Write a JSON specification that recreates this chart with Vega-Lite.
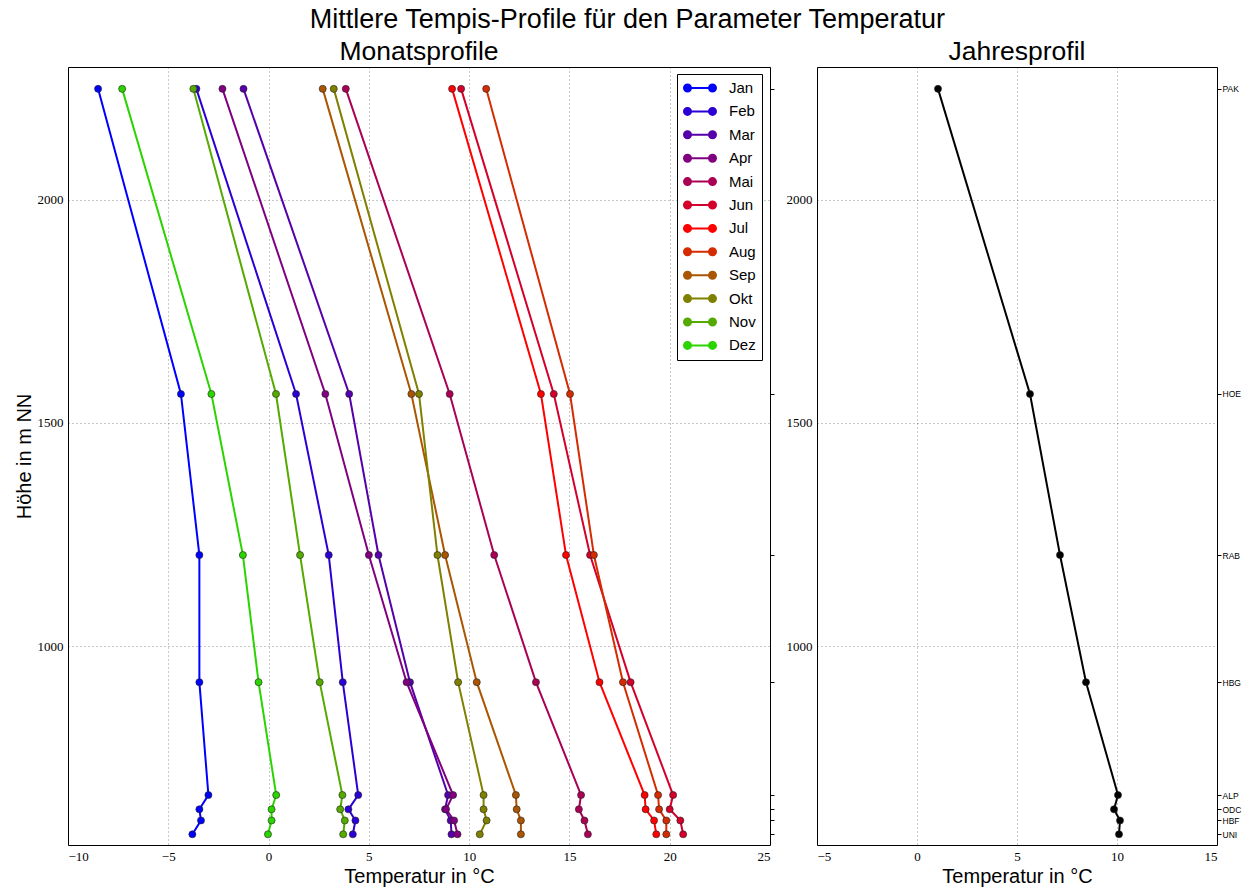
{
  "$schema": "https://vega.github.io/schema/vega-lite/v6.json",
  "padding": {"left": 13, "top": 6, "right": 0, "bottom": 0},
  "title": {"text": "Mittlere Tempis-Profile für den Parameter Temperatur", "fontSize": 27, "fontWeight": "normal", "anchor": "middle", "font": "Liberation Sans", "color": "#000", "offset": 4},
  "datasets": {
    "monat": [
      {"m":"Jan","s":"PAK","h":2249,"t":-8.5},{"m":"Feb","s":"PAK","h":2249,"t":-3.6},{"m":"Mar","s":"PAK","h":2249,"t":-1.25},{"m":"Apr","s":"PAK","h":2249,"t":-2.3},{"m":"Mai","s":"PAK","h":2249,"t":3.85},{"m":"Jun","s":"PAK","h":2249,"t":9.6},{"m":"Jul","s":"PAK","h":2249,"t":9.15},{"m":"Aug","s":"PAK","h":2249,"t":10.85},{"m":"Sep","s":"PAK","h":2249,"t":2.7},{"m":"Okt","s":"PAK","h":2249,"t":3.25},{"m":"Nov","s":"PAK","h":2249,"t":-3.75},{"m":"Dez","s":"PAK","h":2249,"t":-7.3},
      {"m":"Jan","s":"HOE","h":1565,"t":-4.37},{"m":"Feb","s":"HOE","h":1565,"t":1.37},{"m":"Mar","s":"HOE","h":1565,"t":4.02},{"m":"Apr","s":"HOE","h":1565,"t":2.83},{"m":"Mai","s":"HOE","h":1565,"t":9.03},{"m":"Jun","s":"HOE","h":1565,"t":14.22},{"m":"Jul","s":"HOE","h":1565,"t":13.58},{"m":"Aug","s":"HOE","h":1565,"t":15.03},{"m":"Sep","s":"HOE","h":1565,"t":7.12},{"m":"Okt","s":"HOE","h":1565,"t":7.5},{"m":"Nov","s":"HOE","h":1565,"t":0.37},{"m":"Dez","s":"HOE","h":1565,"t":-2.85},
      {"m":"Jan","s":"RAB","h":1204,"t":-3.45},{"m":"Feb","s":"RAB","h":1204,"t":3.0},{"m":"Mar","s":"RAB","h":1204,"t":5.48},{"m":"Apr","s":"RAB","h":1204,"t":5.0},{"m":"Mai","s":"RAB","h":1204,"t":11.25},{"m":"Jun","s":"RAB","h":1204,"t":16.03},{"m":"Jul","s":"RAB","h":1204,"t":14.83},{"m":"Aug","s":"RAB","h":1204,"t":16.22},{"m":"Sep","s":"RAB","h":1204,"t":8.8},{"m":"Okt","s":"RAB","h":1204,"t":8.42},{"m":"Nov","s":"RAB","h":1204,"t":1.57},{"m":"Dez","s":"RAB","h":1204,"t":-1.28},
      {"m":"Jan","s":"HBG","h":919,"t":-3.45},{"m":"Feb","s":"HBG","h":919,"t":3.7},{"m":"Mar","s":"HBG","h":919,"t":7.05},{"m":"Apr","s":"HBG","h":919,"t":6.88},{"m":"Mai","s":"HBG","h":919,"t":13.33},{"m":"Jun","s":"HBG","h":919,"t":18.05},{"m":"Jul","s":"HBG","h":919,"t":16.5},{"m":"Aug","s":"HBG","h":919,"t":17.67},{"m":"Sep","s":"HBG","h":919,"t":10.38},{"m":"Okt","s":"HBG","h":919,"t":9.45},{"m":"Nov","s":"HBG","h":919,"t":2.55},{"m":"Dez","s":"HBG","h":919,"t":-0.5},
      {"m":"Jan","s":"ALP","h":666,"t":-3.0},{"m":"Feb","s":"ALP","h":666,"t":4.47},{"m":"Mar","s":"ALP","h":666,"t":8.95},{"m":"Apr","s":"ALP","h":666,"t":9.2},{"m":"Mai","s":"ALP","h":666,"t":15.58},{"m":"Jun","s":"ALP","h":666,"t":20.17},{"m":"Jul","s":"ALP","h":666,"t":18.75},{"m":"Aug","s":"ALP","h":666,"t":19.42},{"m":"Sep","s":"ALP","h":666,"t":12.33},{"m":"Okt","s":"ALP","h":666,"t":10.72},{"m":"Nov","s":"ALP","h":666,"t":3.68},{"m":"Dez","s":"ALP","h":666,"t":0.38},
      {"m":"Jan","s":"ODC","h":634,"t":-3.45},{"m":"Feb","s":"ODC","h":634,"t":3.98},{"m":"Mar","s":"ODC","h":634,"t":8.8},{"m":"Apr","s":"ODC","h":634,"t":8.85},{"m":"Mai","s":"ODC","h":634,"t":15.47},{"m":"Jun","s":"ODC","h":634,"t":20.0},{"m":"Jul","s":"ODC","h":634,"t":18.8},{"m":"Aug","s":"ODC","h":634,"t":19.47},{"m":"Sep","s":"ODC","h":634,"t":12.37},{"m":"Okt","s":"ODC","h":634,"t":10.72},{"m":"Nov","s":"ODC","h":634,"t":3.57},{"m":"Dez","s":"ODC","h":634,"t":0.15},
      {"m":"Jan","s":"HBF","h":609,"t":-3.37},{"m":"Feb","s":"HBF","h":609,"t":4.33},{"m":"Mar","s":"HBF","h":609,"t":9.08},{"m":"Apr","s":"HBF","h":609,"t":9.25},{"m":"Mai","s":"HBF","h":609,"t":15.75},{"m":"Jun","s":"HBF","h":609,"t":20.53},{"m":"Jul","s":"HBF","h":609,"t":19.22},{"m":"Aug","s":"HBF","h":609,"t":19.83},{"m":"Sep","s":"HBF","h":609,"t":12.58},{"m":"Okt","s":"HBF","h":609,"t":10.87},{"m":"Nov","s":"HBF","h":609,"t":3.8},{"m":"Dez","s":"HBF","h":609,"t":0.15},
      {"m":"Jan","s":"UNI","h":578,"t":-3.8},{"m":"Feb","s":"UNI","h":578,"t":4.2},{"m":"Mar","s":"UNI","h":578,"t":9.12},{"m":"Apr","s":"UNI","h":578,"t":9.42},{"m":"Mai","s":"UNI","h":578,"t":15.92},{"m":"Jun","s":"UNI","h":578,"t":20.67},{"m":"Jul","s":"UNI","h":578,"t":19.33},{"m":"Aug","s":"UNI","h":578,"t":19.83},{"m":"Sep","s":"UNI","h":578,"t":12.58},{"m":"Okt","s":"UNI","h":578,"t":10.53},{"m":"Nov","s":"UNI","h":578,"t":3.72},{"m":"Dez","s":"UNI","h":578,"t":-0.03}
    ],
    "jahr": [
      {"s":"PAK","h":2249,"t":1.05},
      {"s":"HOE","h":1565,"t":5.65},
      {"s":"RAB","h":1204,"t":7.15},
      {"s":"HBG","h":919,"t":8.45},
      {"s":"ALP","h":666,"t":10.05},
      {"s":"ODC","h":634,"t":9.85},
      {"s":"HBF","h":609,"t":10.15},
      {"s":"UNI","h":578,"t":10.1}
    ]
  },
  "spacing": 10,
  "hconcat": [
    {
      "width": 702,
      "height": 778,
      "title": {"text": "Monatsprofile", "fontSize": 26.5, "fontWeight": "normal", "offset": 2, "color": "#000"},
      "data": {"name": "monat"},
      "encoding": {
        "x": {"field": "t", "type": "quantitative", "scale": {"domain": [-10, 25], "nice": false, "zero": false}, "axis": {"values": [-10, -5, 0, 5, 10, 15, 20, 25], "title": "Temperatur in °C"}},
        "color": {
          "field": "m", "type": "nominal",
          "scale": {
            "domain": ["Jan","Feb","Mar","Apr","Mai","Jun","Jul","Aug","Sep","Okt","Nov","Dez"],
            "range": ["#0000ff","#2b00d4","#5500aa","#800080","#aa0055","#d4002b","#ff0000","#d42b00","#aa5500","#808000","#55aa00","#2bd400"]
          },
          "legend": {
            "title": null,
            "orient": "none",
            "legendX": 609,
            "legendY": 7,
            "strokeColor": "#000",
            "fillColor": "#fff",
            "padding": 6,
            "symbolType": "M-0.5,0L3.07,0M0,0A0.5,0.5,0,1,1,-1,0A0.5,0.5,0,1,1,0,0M3.57,0A0.5,0.5,0,1,1,2.57,0A0.5,0.5,0,1,1,3.57,0",
            "symbolSize": 196,
            "symbolStrokeWidth": 2,
            "symbolOpacity": 1,
            "labelFontSize": 15,
            "labelFont": "Liberation Sans",
            "labelColor": "#000",
            "labelOffset": 30,
            "rowPadding": 7.4
          }
        }
      },
      "layer": [
        {
          "mark": {"type": "line", "strokeWidth": 2},
          "encoding": {
            "y": {"field": "h", "type": "quantitative", "scale": {"domain": [554, 2298], "nice": false, "zero": false}, "axis": {"values": [1000, 1500, 2000], "format": "d", "title": "Höhe in m NN"}},
            "order": {"field": "h", "type": "quantitative"}
          }
        },
        {
          "mark": {"type": "circle", "size": 50, "opacity": 1, "stroke": "#222", "strokeWidth": 0.6},
          "encoding": {
            "y": {"field": "h", "type": "quantitative", "scale": {"domain": [554, 2298], "nice": false, "zero": false}, "axis": {"orient": "right", "values": [578, 609, 634, 666, 919, 1204, 1565, 2249], "labels": false, "grid": false, "ticks": true, "tickSize": 4, "title": null}}
          }
        }
      ],
      "resolve": {"scale": {"y": "independent"}}
    },
    {
      "width": 400,
      "height": 778,
      "title": {"text": "Jahresprofil", "fontSize": 26.5, "fontWeight": "normal", "offset": 2, "color": "#000"},
      "data": {"name": "jahr"},
      "encoding": {
        "x": {"field": "t", "type": "quantitative", "scale": {"domain": [-5, 15], "nice": false, "zero": false}, "axis": {"values": [-5, 0, 5, 10, 15], "title": "Temperatur in °C"}}
      },
      "layer": [
        {
          "mark": {"type": "line", "strokeWidth": 2, "color": "#000"},
          "encoding": {
            "y": {"field": "h", "type": "quantitative", "scale": {"domain": [554, 2298], "nice": false, "zero": false}, "axis": {"values": [1000, 1500, 2000], "format": "d", "title": null}},
            "order": {"field": "h", "type": "quantitative"}
          }
        },
        {
          "mark": {"type": "circle", "size": 50, "opacity": 1, "color": "#000", "stroke": "#222", "strokeWidth": 0.6},
          "encoding": {
            "y": {"field": "h", "type": "quantitative", "scale": {"domain": [554, 2298], "nice": false, "zero": false}, "axis": {"orient": "right", "values": [578, 609, 634, 666, 919, 1204, 1565, 2249], "grid": false, "ticks": true, "tickSize": 4, "labelPadding": 1, "labelFont": "Liberation Sans", "labelFontSize": 8.5, "title": null, "labelExpr": "datum.value == 2249 ? 'PAK' : datum.value == 1565 ? 'HOE' : datum.value == 1204 ? 'RAB' : datum.value == 919 ? 'HBG' : datum.value == 666 ? 'ALP' : datum.value == 634 ? 'ODC' : datum.value == 609 ? 'HBF' : 'UNI'"}}
          }
        }
      ],
      "resolve": {"scale": {"y": "independent"}}
    }
  ],
  "config": {
    "font": "Liberation Sans",
    "view": {"stroke": "#000", "strokeWidth": 1},
    "axis": {
      "grid": true, "gridColor": "#000", "gridOpacity": 0.55, "gridDash": [1, 3], "gridWidth": 0.8,
      "domain": false, "ticks": false, "tickColor": "#000",
      "labelFont": "Liberation Serif", "labelFontSize": 13, "labelColor": "#000", "labelPadding": 5,
      "titleFont": "Liberation Sans", "titleFontSize": 20, "titleFontWeight": "normal", "titleColor": "#000", "titlePadding": 3
    }
  }
}
